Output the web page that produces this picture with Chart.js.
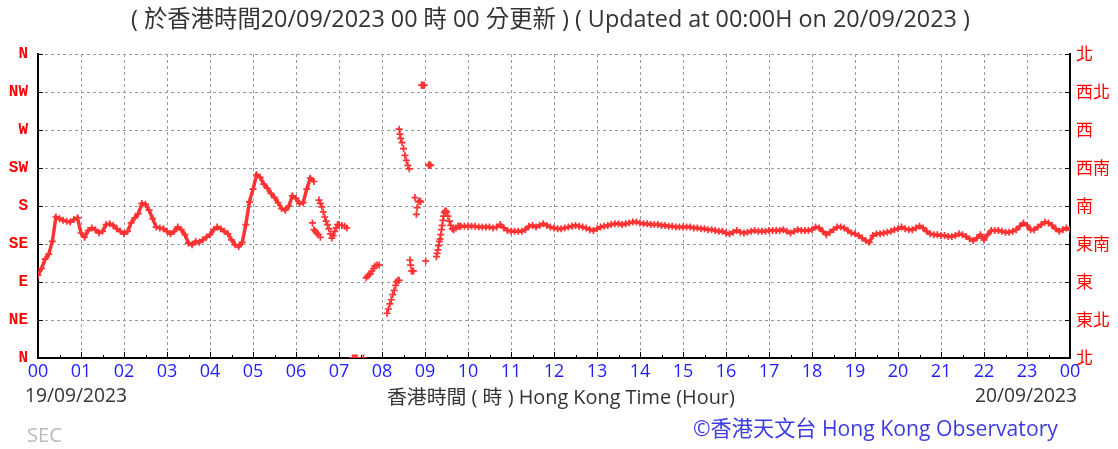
<!DOCTYPE html>
<html>
<head>
<meta charset="utf-8">
<script src="https://cdn.jsdelivr.net/npm/chart.js@4/dist/chart.umd.min.js"></script>
<style>
  html, body { margin: 0; padding: 0; background: #fff; }
  #wrap { width: 1118px; height: 449px; position: relative; }
</style>
</head>
<body>
<div id="wrap"><canvas id="c"></canvas></div>
<script>
// hour labels along the bottom, 00 .. 23 then 00 of the next day
const hourLabels = ['00','01','02','03','04','05','06','07','08','09','10','11','12',
  '13','14','15','16','17','18','19','20','21','22','23','00']
const dirLabelsEn = ['N','NE','E','SE','S','SW','W','NW','N']
const dirLabelsZh = ['北','東北','東','東南','南','西南','西','西北','北']

// wind direction (degrees) every 5 minutes from 00:00, null where the record is broken up
const stepMinutes = 5
const dirs5min = [
  98,106,117,123,138,167,165,163,162,161,164,166,        // 00
  148,143,151,154,152,148,150,158,159,157,153,150,       // 01
  147,150,160,166,171,183,182,175,165,155,154,153,       // 02
  150,147,150,155,152,146,136,134,138,137,140,143,       // 03
  146,152,155,153,150,147,140,134,132,137,158,185,       // 04
  200,217,214,206,201,195,190,184,177,175,180,192,       // 05
  189,183,184,200,213,209,null,null,null,null,null,null, // 06
  null,null,null,null,null,null,null,null,null,null,null,null, // 07
  null,null,null,null,null,null,null,null,null,null,null,null, // 08
  null,null,null,null,null,null,null,null,null,null,156,156,   // 09
  156,156,156,155,155,155,155,154,155,158,154,151,       // 10
  150,150,150,150,152,156,157,155,157,159,157,155,       // 11
  154,153,153,154,155,156,157,156,155,154,152,151,       // 12
  153,155,156,157,158,159,159,158,159,160,161,161,       // 13
  160,159,159,158,158,158,157,157,156,156,155,155,       // 14
  155,155,155,154,154,153,153,152,152,151,150,150,       // 15
  148,147,149,151,149,148,149,150,151,150,150,150,       // 16
  151,151,151,151,152,150,148,150,152,151,151,151,       // 17
  152,155,154,150,146,149,152,155,155,154,151,148,       // 18
  147,145,142,139,137,145,147,147,148,149,150,152,       // 19
  153,155,153,152,152,154,156,154,150,147,146,146,       // 20
  145,145,144,144,145,147,146,144,141,139,142,146,       // 21
  140,146,151,151,151,150,149,149,150,152,156,160,       // 22
  157,152,152,155,158,161,160,157,153,150,152,154,       // 23
  152                                                    // 24
]

// the scattered spell between 06:20 and 09:50, minute of day and direction
const gustMinutes = [
  383,385,387,389,391,394,
  392,394,396,398,400,402,404,406,408,410,412,414,416,418,420,424,428,431,
  439,441,443,445,454,
  458,460,462,464,466,468,470,473,476,
  487,489,491,493,495,497,499,500,502,504,
  504,505,506,508,510,512,514,516,518,
  519,520,521,523,524,
  526,528,529,531,533,534,
  535,536,537,538,539,
  541,
  545,546,547,548,
  556,557,558,559,560,561,562,563,564,565,566,567,568,569,570,572,574,576,578,580,583,586,588
]
const gustDirs = [
  160,152,150,148,146,143,
  187,183,179,173,167,162,158,153,147,142,145,150,154,158,158,157,156,154,
  0,0,0,0,0,
  95,97,99,100,103,106,109,110,110,
  53,58,64,69,75,80,86,90,92,92,
  271,265,260,255,248,240,234,228,224,
  116,110,103,103,103,
  190,170,178,185,186,185,
  323,323,323,323,323,
  115,
  228,229,228,228,
  120,124,128,133,138,141,146,152,157,163,168,172,174,174,173,168,162,157,153,152,154,156,156
]

const mainPoints = dirs5min.map((d, i) => ({ x: i * stepMinutes, y: d }))
const gustPoints = gustMinutes.map((m, i) => ({ x: m, y: gustDirs[i] }))

const RED = '#ff3333'
const crossStyle = {
  pointStyle: 'cross',
  pointRadius: 3.5,
  pointBorderWidth: 1.7,
  borderColor: RED,
  backgroundColor: RED,
  pointHoverRadius: 3.5
}

const cjk = '"Open Sans", "Noto Sans CJK TC", sans-serif'

// draw a string scaled so that it spans the given width
function fitText(ctx, text, x, y, width, align, family, color) {
  ctx.font = '20px ' + family
  const size = 20 * width / ctx.measureText(text).width
  ctx.font = size.toFixed(2) + 'px ' + family
  ctx.fillStyle = color
  ctx.textAlign = align
  ctx.fillText(text, x, y)
}

const extras = {
  id: 'extras',
  afterDraw(chart) {
    const { ctx, chartArea: a, scales } = chart
    ctx.save()
    // small ticks pointing into the plot
    ctx.strokeStyle = '#000'
    ctx.lineWidth = 1
    const seg = (x1, y1, x2, y2) => { ctx.beginPath(); ctx.moveTo(x1, y1); ctx.lineTo(x2, y2); ctx.stroke() }
    scales.y.ticks.forEach(t => {
      const y = Math.round(scales.y.getPixelForValue(t.value)) + 0.5
      seg(a.left, y, a.left + 5, y)
      seg(a.right - 5, y, a.right, y)
    })
    for (let m = 0; m <= 1440; m += 30) {
      const x = Math.round(scales.x.getPixelForValue(m)) + 0.5
      seg(x, a.bottom, x, a.bottom - (m % 60 === 0 ? 6 : 3))
    }

    ctx.textBaseline = 'middle'
    fitText(ctx, '( 於香港時間20/09/2023 00 時 00 分更新 ) ( Updated at 00:00H on 20/09/2023 )', 131, 20, 839, 'left', cjk, '#333')
    fitText(ctx, '香港時間 ( 時 ) Hong Kong Time (Hour)', 387, 398, 348, 'left', cjk, '#333')
    fitText(ctx, '19/09/2023', 25, 397, 102, 'left', cjk, '#333')
    fitText(ctx, '20/09/2023', 975, 397, 102, 'left', cjk, '#333')
    fitText(ctx, 'SEC', 27, 436, 35, 'left', cjk, '#bbb')
    fitText(ctx, '©香港天文台 Hong Kong Observatory', 693, 430, 365, 'left', cjk, '#3c3ce0')
    ctx.restore()
  }
}

new Chart(document.getElementById('c'), {
  type: 'scatter',
  data: {
    datasets: [
      { data: mainPoints, ...crossStyle, showLine: true, borderWidth: 3.5, spanGaps: false },
      { data: gustPoints, ...crossStyle, showLine: false }
    ]
  },
  options: {
    responsive: true,
    maintainAspectRatio: false,
    animation: false,
    layout: { padding: { top: 54, left: 0, right: 0, bottom: 0 } },
    plugins: { legend: { display: false }, tooltip: { enabled: false } },
    scales: {
      x: {
        type: 'linear', min: 0, max: 1440,
        afterFit: s => { s.height = 91 },
        afterBuildTicks: s => { s.ticks = hourLabels.map((_, i) => ({ value: i * 60 })) },
        ticks: {
          color: '#1e1eff', padding: 3, maxRotation: 0, autoSkip: false,
          font: { family: '"Open Sans", sans-serif', size: 18 },
          callback: (v, i) => hourLabels[i]
        },
        grid: { color: '#999', lineWidth: 1, drawTicks: false },
        border: { display: true, color: '#000', width: 2, dash: [3, 3] }
      },
      y: {
        type: 'linear', position: 'left', min: 0, max: 360,
        afterFit: s => { s.width = 38 },
        afterBuildTicks: s => { s.ticks = dirLabelsEn.map((_, i) => ({ value: i * 45 })) },
        ticks: {
          color: '#ff0000', padding: 10, autoSkip: false,
          font: { family: '"Liberation Mono", monospace', size: 16, weight: 'bold' },
          callback: (v, i) => dirLabelsEn[i]
        },
        grid: { color: '#999', lineWidth: 1, drawTicks: false },
        border: { display: true, color: '#000', width: 2, dash: [3, 3] }
      },
      y2: {
        type: 'linear', position: 'right', min: 0, max: 360,
        afterFit: s => { s.width = 48 },
        afterBuildTicks: s => { s.ticks = dirLabelsZh.map((_, i) => ({ value: i * 45 })) },
        ticks: {
          color: '#ff0000', padding: 6, autoSkip: false,
          font: { family: '"Noto Sans CJK TC", sans-serif', size: 17 },
          callback: (v, i) => dirLabelsZh[i]
        },
        grid: { display: false, drawTicks: false },
        border: { display: true, color: '#000', width: 2 }
      }
    }
  },
  plugins: [extras]
})
</script>
</body>
</html>
